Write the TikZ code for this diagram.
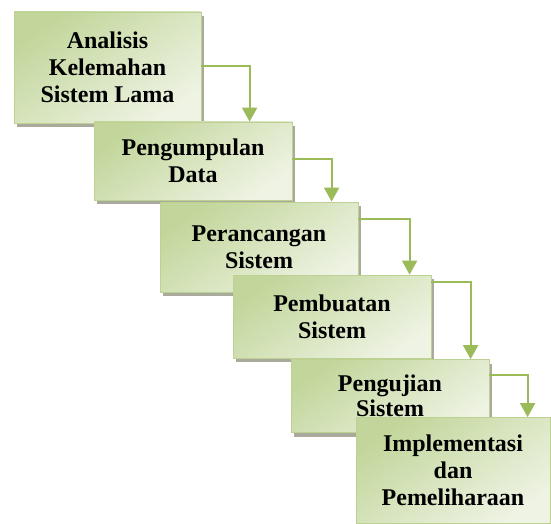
\documentclass[tikz,border=0pt]{standalone}
\usepackage{fontspec}
\setmainfont{Liberation Serif}
\usetikzlibrary{arrows.meta,calc,shadows}
\definecolor{gdark}{HTML}{C2D69B}
\definecolor{glight}{HTML}{EEF3E3}
\definecolor{gedge}{HTML}{BCD192}
\definecolor{garrow}{HTML}{9BBB59}
\definecolor{gshadow}{HTML}{A9AA9C}
\tikzset{
  stagebox/.style={draw=gedge, line width=0.8pt, shading=axis, top color=gdark, bottom color=glight, shading angle=35,
    align=center, font=\fontsize{24}{27}\selectfont\bfseries, inner sep=0pt,
    general shadow={fill=gshadow, shadow xshift=3pt, shadow yshift=-4pt}},
  flowarrow/.style={draw=garrow, line width=2pt, -{Triangle[width=15pt,length=14pt]}}
}
\begin{document}
\begin{tikzpicture}[x=1pt,y=-1pt]
\useasboundingbox (0,0) rectangle (551,524);
\node[stagebox, minimum width=187pt, minimum height=111pt] (b1) at (107.5,67.5) {Analisis\\Kelemahan\\Sistem Lama};
\node[stagebox, minimum width=198pt, minimum height=78pt] (b2) at (193,161) {Pengumpulan\\Data};
\node[stagebox, minimum width=198pt, minimum height=90pt] (b3) at (259,247) {Perancangan\\Sistem};
\node[stagebox, minimum width=198pt, minimum height=83pt] (b4) at (332,316.5) {Pembuatan\\Sistem};
\node[stagebox, minimum width=198pt, minimum height=73pt] (b5) at (390,396) {\raisebox{-3pt}{\shortstack{Pengujian\\[0pt]Sistem}}};
\node[stagebox, minimum width=194pt, minimum height=106pt] (b6) at (453,470.5) {Implementasi\\dan\\Pemeliharaan};
\draw[flowarrow] ($(b1.north east)+(0,54)$) -| ($(b2.north west)+(156,0)$);
\draw[flowarrow] ($(b2.north east)+(0,37)$) -| ($(b3.north west)+(172,0)$);
\draw[flowarrow] ($(b3.north east)+(0,17)$) -| ($(b4.north west)+(177,0)$);
\draw[flowarrow] ($(b4.north east)+(0,7)$) -| ($(b5.north west)+(180,0)$);
\draw[flowarrow] ($(b5.north east)+(0,16)$) -| ($(b6.north west)+(172,0)$);
\end{tikzpicture}
\end{document}
